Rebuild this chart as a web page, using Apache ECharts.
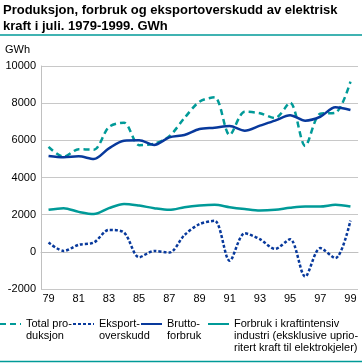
<!DOCTYPE html>
<html><head><meta charset="utf-8">
<script src="https://cdn.jsdelivr.net/npm/echarts@6/dist/echarts.min.js"></script>
<style>html,body{margin:0;padding:0;background:#fff}#c{width:362px;height:363px}</style>
</head><body><div id="c"></div>
<script>
const years = ['79','80','81','82','83','84','85','86','87','88','89','90','91','92','93','94','95','96','97','98','99'];
const totalProduksjon = [5650,5120,5520,5500,6720,6950,5740,5820,6220,7200,8080,8320,6290,7540,7460,7200,8030,5700,7430,7480,9160];
const eksportoverskudd = [500,50,380,500,1180,1040,-290,50,-40,900,1490,1670,-480,1000,680,160,680,-1330,200,-340,1680];
const bruttoforbruk = [5160,5090,5140,5000,5570,5980,6000,5750,6160,6290,6610,6680,6770,6520,6790,7060,7350,7060,7270,7780,7630];
const kraftintensiv = [2260,2350,2150,2030,2350,2580,2490,2350,2260,2400,2490,2530,2400,2300,2220,2260,2370,2440,2440,2530,2440];
const yTicks = {min:-2000, max:10000, interval:2000};

const TEAL = '#009a98', NAVY = '#08399c';
const FONT = 'Liberation Sans, Arial, sans-serif';
const names = ['Total pro-\nduksjon','Eksport-\noverskudd','Brutto-\nforbruk','Forbruk i kraftintensiv\nindustri (eksklusive uprio-\nritert kraft til elektrokjeler)'];

const chart = echarts.init(document.getElementById('c'), null, {renderer:'canvas'});
function leg(name, left, lines){
  const blanks = '\n'.repeat(lines-1);
  return {
    data:[name], left:left, top:324 - (2*lines-1)*6, orient:'horizontal',
    itemWidth:21, itemHeight:10, itemGap:0, padding:0,
    selectedMode:false,
    itemStyle:{opacity:0},
    formatter: n => blanks + n,
    textStyle:{fontFamily:FONT, fontSize:11, color:'#000', lineHeight:12}
  };
}
chart.setOption({
  animation:false,
  textStyle:{fontFamily:FONT},
  title:[{
    text:'Produksjon, forbruk og eksportoverskudd av elektrisk\nkraft i juli. 1979-1999. GWh',
    left:3, top:2, padding:0,
    textStyle:{fontFamily:FONT, fontSize:13, fontWeight:'bold', color:'#000', lineHeight:16}
  },{
    text:'GWh', left:5, top:44, padding:0,
    textStyle:{fontFamily:FONT, fontSize:11, fontWeight:'normal', color:'#000'}
  }],
  graphic:[
    {type:'line', shape:{x1:0,y1:35,x2:362,y2:35}, style:{stroke:TEAL, lineWidth:1.5}},
    {type:'line', shape:{x1:0,y1:361.5,x2:362,y2:361.5}, style:{stroke:TEAL, lineWidth:1.5}}
  ],
  legend:[leg(names[0],-1,2), leg(names[1],72,2), leg(names[2],140,2), leg(names[3],207,3)],
  grid:{left:41, right:4, top:66, bottom:74, containLabel:false},
  xAxis:{
    type:'category', data:years, boundaryGap:true,
    axisLine:{lineStyle:{color:'#c0c0c0', width:1}},
    axisTick:{inside:true, length:5, alignWithLabel:true, interval:0, lineStyle:{color:'#c0c0c0'}},
    axisLabel:{interval:1, color:'#000', fontSize:11, fontFamily:FONT, margin:4}
  },
  yAxis:{
    type:'value', min:yTicks.min, max:yTicks.max, interval:yTicks.interval,
    axisLine:{show:true, lineStyle:{color:'#c0c0c0'}},
    axisTick:{show:false},
    splitLine:{lineStyle:{color:'#c8c8c8', width:1}},
    axisLabel:{color:'#000', fontSize:11, fontFamily:FONT, margin:5, formatter: v => String(v)}
  },
  series:[
    {name:names[0], type:'line', data:totalProduksjon, smooth:0.3, symbol:'none', color:TEAL,
     lineStyle:{color:TEAL, width:2.5, type:[6,4]}},
    {name:names[1], type:'line', data:eksportoverskudd, smooth:0.3, symbol:'none', color:NAVY,
     lineStyle:{color:NAVY, width:2.5, type:[3,2]}},
    {name:names[2], type:'line', data:bruttoforbruk, smooth:0.3, symbol:'none', color:NAVY,
     lineStyle:{color:NAVY, width:2.5}},
    {name:names[3], type:'line', data:kraftintensiv, smooth:0.3, symbol:'none', color:TEAL,
     lineStyle:{color:TEAL, width:2.5}}
  ]
});
</script></body></html>
